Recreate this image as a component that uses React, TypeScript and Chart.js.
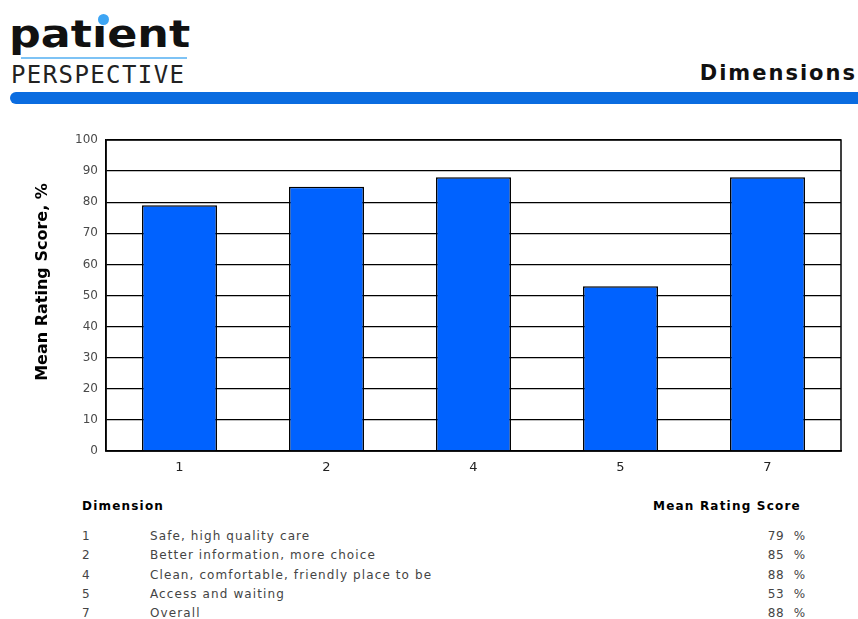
import React, { useEffect, useRef } from "react";
import { Chart, registerables } from "chart.js";

Chart.register(...registerables);

const categories = ["1", "2", "4", "5", "7"];
const scores = [79, 85, 88, 53, 88];
const dimensionNames = [
  "Safe, high quality care",
  "Better information, more choice",
  "Clean, comfortable, friendly place to be",
  "Access and waiting",
  "Overall",
];
const yTicks = [0, 10, 20, 30, 40, 50, 60, 70, 80, 90, 100];
const yTitle = "Mean Rating Score, %";

const FONT = "'DejaVu Sans', Verdana, sans-serif";
const CANVAS_TOP = 120;

export default function App() {
  const ref = useRef<HTMLCanvasElement | null>(null);

  useEffect(() => {
    if (!ref.current) return;
    const chart = new Chart(ref.current, {
      type: "bar",
      data: {
        labels: categories,
        datasets: [
          {
            data: scores,
            backgroundColor: "#0062FF",
            borderColor: "#000000",
            borderWidth: 1.5,
            categoryPercentage: 1,
            barPercentage: 0.51,
          },
        ],
      },
      options: {
        responsive: false,
        animation: false,
        layout: { padding: { top: 20, right: 17, bottom: 12, left: 0 } },
        plugins: { legend: { display: false }, tooltip: { enabled: false } },
        scales: {
          x: {
            grid: { display: false, drawTicks: false },
            border: { color: "#000", width: 1.5 },
            ticks: { color: "#222", font: { family: FONT, size: 13 }, padding: 9 },
            afterFit: (s: any) => {
              s.height = 27;
            },
          },
          y: {
            min: 0,
            max: 100,
            afterBuildTicks: (s: any) => {
              s.ticks = yTicks.map((v) => ({ value: v }));
            },
            grid: { color: "#000", lineWidth: 1.2, drawTicks: false },
            border: { color: "#000", width: 1.5 },
            ticks: { color: "#4a4a4a", font: { family: FONT, size: 12 }, padding: 8 },
            afterFit: (s: any) => {
              s.width = 106;
            },
          },
        },
      },
      plugins: [
        {
          id: "frameAndTitle",
          afterDraw(c: any) {
            const a = c.chartArea;
            const ctx = c.ctx;
            ctx.save();
            ctx.strokeStyle = "#000";
            ctx.lineWidth = 1.5;
            ctx.strokeRect(a.left, a.top, a.right - a.left, a.bottom - a.top);
            ctx.translate(43, 282 - CANVAS_TOP);
            ctx.rotate(-Math.PI / 2);
            ctx.fillStyle = "#000";
            ctx.font = "bold 16px " + FONT;
            ctx.textAlign = "center";
            ctx.textBaseline = "middle";
            ctx.fillText(yTitle, 0, 0);
            ctx.restore();
          },
        },
      ],
    });
    return () => chart.destroy();
  }, []);

  const rowTop = 529;
  const rowH = 19.3;
  const cell = { fontSize: 12, color: "#444", letterSpacing: 1.1, lineHeight: "14px" } as const;
  const head = { fontWeight: "bold", fontSize: 12, color: "#000", letterSpacing: 1.2, lineHeight: "14px" } as const;

  return (
    <div style={{ position: "absolute", left: 0, top: 0, width: 858, height: 619, background: "#fff", fontFamily: FONT, overflow: "hidden" }}>
      {/* Logo */}
      <div style={{ position: "absolute", left: 9, top: 15, fontFamily: "'DejaVu Sans', sans-serif", fontWeight: "bold", fontSize: 37, color: "#111", lineHeight: "40px", transform: "scaleX(1.2)", transformOrigin: "0 0", whiteSpace: "pre" }}>
        patıent
      </div>
      <div style={{ position: "absolute", left: 98, top: 14, width: 11, height: 11, borderRadius: "50%", background: "#3DA5F4" }} />
      <div style={{ position: "absolute", left: 21, top: 57, width: 166, height: 2, background: "#7EC3F5" }} />
      <div style={{ position: "absolute", left: 11, top: 62, fontFamily: "'DejaVu Sans Mono', monospace", fontSize: 24, color: "#222", letterSpacing: 1.4, lineHeight: "26px", whiteSpace: "pre" }}>
        PERSPECTIVE
      </div>
      <div style={{ position: "absolute", right: 1, top: 61, fontWeight: "bold", fontSize: 21, color: "#111", letterSpacing: 2, lineHeight: "24px" }}>
        Dimensions
      </div>
      <div style={{ position: "absolute", left: 10, top: 92, width: 860, height: 12, background: "#0A6CE0", borderRadius: "6px 0 0 6px" }} />

      {/* Chart */}
      <canvas ref={ref} width={858} height={370} style={{ position: "absolute", left: 0, top: CANVAS_TOP, width: 858, height: 370 }} />

      {/* Table */}
      <div style={{ position: "absolute", left: 82, top: 499, ...head }}>Dimension</div>
      <div style={{ position: "absolute", left: 653, top: 499, ...head }}>Mean Rating Score</div>
      {categories.map((c, i) => (
        <React.Fragment key={c}>
          <div style={{ position: "absolute", left: 82, top: rowTop + i * rowH, ...cell }}>{c}</div>
          <div style={{ position: "absolute", left: 150, top: rowTop + i * rowH, ...cell, whiteSpace: "pre" }}>{dimensionNames[i]}</div>
          <div style={{ position: "absolute", right: 858 - 806, top: rowTop + i * rowH, ...cell, letterSpacing: 0.8, whiteSpace: "pre" }}>{scores[i] + "  %"}</div>
        </React.Fragment>
      ))}
    </div>
  );
}
